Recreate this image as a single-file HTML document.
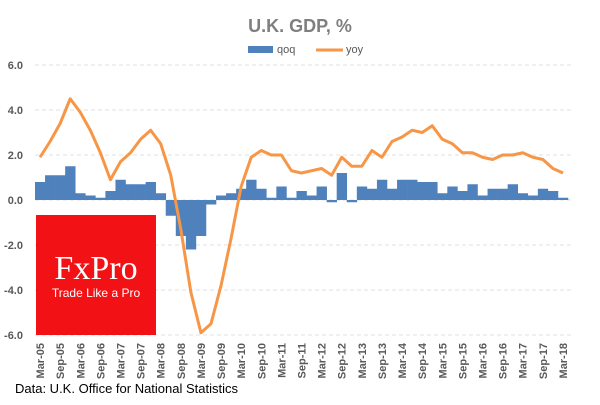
<!DOCTYPE html>
<html><head><meta charset="utf-8"><style>
body{margin:0;background:#fff;font-family:"Liberation Sans",sans-serif}
svg text{font-family:"Liberation Sans",sans-serif}
</style></head><body>
<svg id="c" width="600" height="400">
<text x="300" y="32" text-anchor="middle" font-size="18" font-weight="bold" fill="#7f7f7f">U.K. GDP, %</text>
<g>
<rect x="248" y="46" width="25" height="7" fill="#4f81bd"/>
<text x="277" y="53" font-size="11" fill="#595959">qoq</text>
<line x1="316" y1="50" x2="343" y2="50" stroke="#f79646" stroke-width="3"/>
<text x="346" y="53" font-size="11" fill="#595959">yoy</text>
</g>
<g id="grid"></g><g id="bars"></g>
<rect x="36" y="215" width="120" height="120" fill="#f21216"/>
<text x="96" y="279" text-anchor="middle" font-size="34" fill="#fff" style="font-family:'Liberation Serif',serif">FxPro</text>
<text x="96" y="297" text-anchor="middle" font-size="12" fill="#fff">Trade Like a Pro</text>
<g id="line"></g><g id="xl"></g>
<text x="15" y="393" font-size="13" fill="#000">Data: U.K. Office for National Statistics</text>
</svg>
<script>
const qoq=[0.8,1.1,1.1,1.5,0.3,0.2,0.1,0.4,0.9,0.7,0.7,0.8,0.3,-0.7,-1.6,-2.2,-1.6,-0.2,0.2,0.3,0.5,0.9,0.5,0.1,0.6,0.1,0.4,0.2,0.6,-0.1,1.2,-0.1,0.6,0.5,0.9,0.5,0.9,0.9,0.8,0.8,0.3,0.6,0.4,0.7,0.2,0.5,0.5,0.7,0.3,0.2,0.5,0.4,0.1];
const yoy=[1.9,2.6,3.4,4.5,3.9,3.1,2.1,0.9,1.7,2.1,2.7,3.1,2.5,1.1,-1.3,-4.1,-5.9,-5.5,-3.8,-1.7,0.6,1.9,2.2,2.0,2.0,1.3,1.2,1.3,1.4,1.1,1.9,1.5,1.5,2.2,1.9,2.6,2.8,3.1,3.0,3.3,2.7,2.5,2.1,2.1,1.9,1.8,2.0,2.0,2.1,1.9,1.8,1.4,1.2];
const yTicks=[6,4,2,0,-2,-4,-6];
const startYear=5;
const NS='http://www.w3.org/2000/svg';
const x0=35,x1=568,n=qoq.length,bw=(x1-x0)/n;
const X=i=>x0+bw*(i+0.5);
const Y=v=>200-v*22.5;
function mk(t,a,p){const e=document.createElementNS(NS,t);for(const k in a)e.setAttribute(k,a[k]);document.getElementById(p).appendChild(e);return e;}
yTicks.forEach(v=>{
 const g=mk('line',{x1:35,x2:571,y1:Y(v),y2:Y(v),stroke:'#e0e0e0','stroke-dasharray':'4,3'},'grid');
 
 
 const t=mk('text',{x:23,y:Y(v)+4,'text-anchor':'end','font-size':'11','font-weight':'bold',fill:'#595959'},'grid');
 t.textContent=v.toFixed(1);
 
 
});
qoq.forEach((v,i)=>{
 const r=mk('rect',{x:x0+bw*i,width:bw+0.3,y:Math.min(Y(v),Y(0)),height:Math.abs(Y(v)-Y(0)),fill:'#4f81bd'},'bars');
 
 
});
const p=mk('polyline',{points:yoy.map((v,i)=>X(i)+','+Y(v)).join(' '),fill:'none',stroke:'#f79646','stroke-width':'3','stroke-linejoin':'round'},'line');


for(let i=0;i<n;i+=2){
 const yr=startYear+Math.floor(i/4);
 const lab=(i%4==0?'Mar-':'Sep-')+String(yr).padStart(2,'0');
 const t=mk('text',{x:0,y:0,transform:`translate(${X(i)+4},343) rotate(-90)`,'text-anchor':'end','font-size':'11','font-weight':'bold',fill:'#595959'},'xl');
 t.textContent=lab;
 
 
}
</script>
</body></html>
